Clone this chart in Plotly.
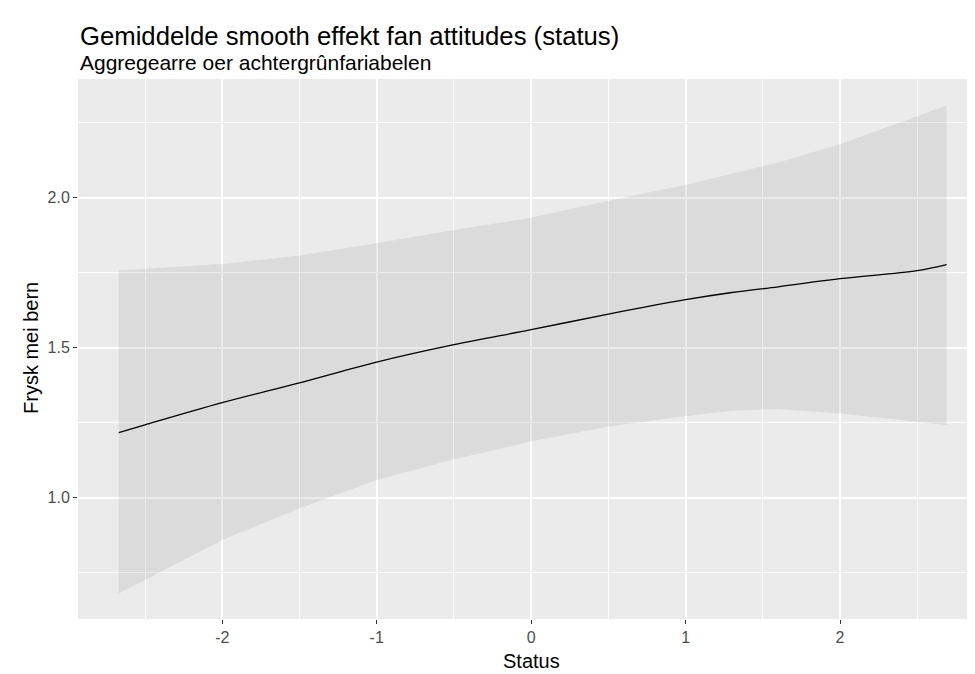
import plotly.graph_objects as go

# Data
status = [-2.67, -2.5, -2.0, -1.5, -1.0, -0.5, 0.0, 0.5, 1.0, 1.3, 1.6, 2.0, 2.5, 2.69]
fit = [1.217, 1.243, 1.317, 1.383, 1.452, 1.510, 1.560, 1.612, 1.660, 1.684, 1.703, 1.730, 1.757, 1.777]
upper = [1.757, 1.762, 1.779, 1.807, 1.848, 1.892, 1.933, 1.990, 2.042, 2.080, 2.117, 2.178, 2.270, 2.307]
lower = [0.681, 0.728, 0.859, 0.965, 1.059, 1.128, 1.187, 1.237, 1.272, 1.290, 1.296, 1.281, 1.253, 1.242]

x_tickvals = [-2, -1, 0, 1, 2]
x_ticktext = ["-2", "-1", "0", "1", "2"]
x_minor = [-2.5, -1.5, -0.5, 0.5, 1.5, 2.5]
y_tickvals = [1.0, 1.5, 2.0]
y_ticktext = ["1.0", "1.5", "2.0"]
y_minor = [0.75, 1.25, 1.75, 2.25]

title = "Gemiddelde smooth effekt fan attitudes (status)"
subtitle = "Aggregearre oer achtergrûnfariabelen"
x_title = "Status"
y_title = "Frysk mei bern"

OFF = 8  # page body margin
W, H = 975 - OFF, 674 - OFF
L, R, T = 70, 0, 71
B = H - (619 - OFF)
pw, ph = W - L - R, H - T - B

def px_x(p):  # screen px -> paper
    return (p - OFF - L) / pw

def px_y(p):
    return (H - B - (p - OFF)) / ph

fig = go.Figure()
fig.add_trace(go.Scatter(
    x=status + status[::-1], y=upper + lower[::-1],
    fill="toself", fillcolor="rgba(153,153,153,0.2)",
    line=dict(width=0), mode="lines", hoverinfo="skip", showlegend=False,
))
fig.add_trace(go.Scatter(
    x=status, y=fit, mode="lines",
    line=dict(color="black", width=1.3, shape="spline"), showlegend=False,
))

font_family = "Liberation Sans, Arial, sans-serif"

fig.update_layout(
    width=W, height=H,
    margin=dict(l=L, r=R, t=T, b=B, pad=0),
    paper_bgcolor="white", plot_bgcolor="#ebebeb",
    font=dict(family=font_family, color="#4d4d4d", size=16),
    showlegend=False,
)
axis_common = dict(
    showgrid=True, gridcolor="white", gridwidth=1.5,
    zeroline=False, showline=False,
    ticks="outside", ticklen=4, tickcolor="#333333", tickwidth=1,
    tickfont=dict(size=16, color="#4d4d4d", family=font_family),
)
fig.update_xaxes(
    range=[-2.934, 2.874], tickmode="array", tickvals=x_tickvals, ticktext=x_ticktext,
    minor=dict(tickmode="array", tickvals=x_minor, showgrid=True, gridcolor="white", gridwidth=0.8, ticks=""),
    **axis_common,
)
fig.update_yaxes(
    range=[0.5957, 2.3957], tickmode="array", tickvals=y_tickvals, ticktext=y_ticktext,
    minor=dict(tickmode="array", tickvals=y_minor, showgrid=True, gridcolor="white", gridwidth=0.8, ticks=""),
    **axis_common,
)

annotations = [
    dict(text=title, x=px_x(78), y=px_y(36), xanchor="left", yanchor="middle",
         font=dict(size=25.7, color="black", family=font_family)),
    dict(text=subtitle, x=px_x(78), y=px_y(62), xanchor="left", yanchor="middle",
         font=dict(size=21, color="black", family=font_family)),
    dict(text=x_title, x=px_x(531), y=px_y(661), xanchor="center", yanchor="middle",
         font=dict(size=20, color="black", family=font_family)),
    dict(text=y_title, x=px_x(31), y=px_y(348), xanchor="center", yanchor="middle",
         textangle=-90, font=dict(size=20, color="black", family=font_family)),
]
for a in annotations:
    a.update(xref="paper", yref="paper", showarrow=False)
fig.update_layout(annotations=annotations)

fig.write_html("out.html")
